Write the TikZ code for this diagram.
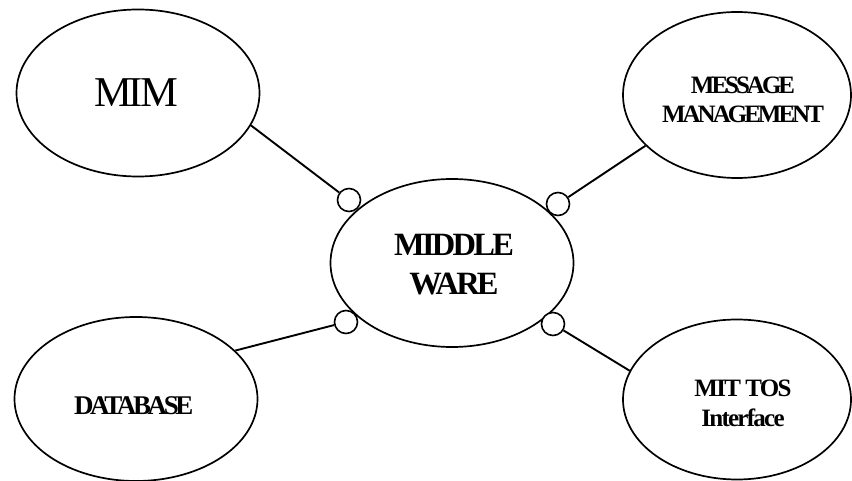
\documentclass[tikz,border=0pt]{standalone}
\usepackage{fontspec}
\setmainfont{Liberation Serif}
\usetikzlibrary{shapes.geometric}
\newfontfamily\fmim{Liberation Serif}[LetterSpace=-7]
\newfontfamily\fmid{Liberation Serif}[LetterSpace=-8.5]
\newfontfamily\fmsg{Liberation Serif}[LetterSpace=-12]
\newfontfamily\fmit{Liberation Serif}[LetterSpace=-7]
\newfontfamily\fdb{Liberation Serif}[LetterSpace=-12.5]
\begin{document}
\begin{tikzpicture}[x=1pt,y=-1pt,
  ell/.style={draw,line width=1.7pt,ellipse,inner sep=0pt},
  port/.style={draw,circle,fill=white,line width=1.6pt,minimum size=23pt,inner sep=0pt},
  link/.style={line width=1.9pt},
  lbl/.style={inner sep=0pt,align=center}]
\useasboundingbox (0,0) rectangle (852,481);
% ellipses
\node[ell,minimum width=243pt,minimum height=167pt] (mim) at (138,93) {};
\node[ell,minimum width=243pt,minimum height=164pt] (db) at (136,399) {};
\node[ell,minimum width=243pt,minimum height=168pt] (mw) at (452,263) {};
\node[ell,minimum width=228pt,minimum height=166pt] (msg) at (737,95) {};
\node[ell,minimum width=228pt,minimum height=160pt] (mit) at (737,399.5) {};
% texts
\node[lbl,font=\fmim\fontsize{42.5}{48}\selectfont] (mimT) at (136,92.5) {MIM};
\node[lbl,font=\fmid\bfseries\fontsize{32.5}{39}\selectfont] (mwT) at (454,264.7) {MIDDLE\\WARE};
\node[lbl,font=\fmsg\bfseries\fontsize{25}{29}\selectfont] (msgT) at (743,100.3) {MESSAGE\\MANAGEMENT};
\node[lbl,font=\fmit\bfseries\fontsize{25}{30}\selectfont] (mitT) at (743,403) {MIT TOS\\Interface};
\node[lbl,font=\fdb\bfseries\fontsize{27}{32}\selectfont] (dbT) at (133.8,405.8) {DATABASE};
% ports
\node[port] (c1) at (349,200) {};
\node[port] (c2) at (558,204) {};
\node[port] (c3) at (346,322) {};
\node[port] (c4) at (553,324) {};
% links
\draw[link] (mim.-16) -- (c1);
\draw[link] (msg.209) -- (c2);
\draw[link] (db.26) -- (c3);
\draw[link] (mit.165) -- (c4);
\end{tikzpicture}
\end{document}
